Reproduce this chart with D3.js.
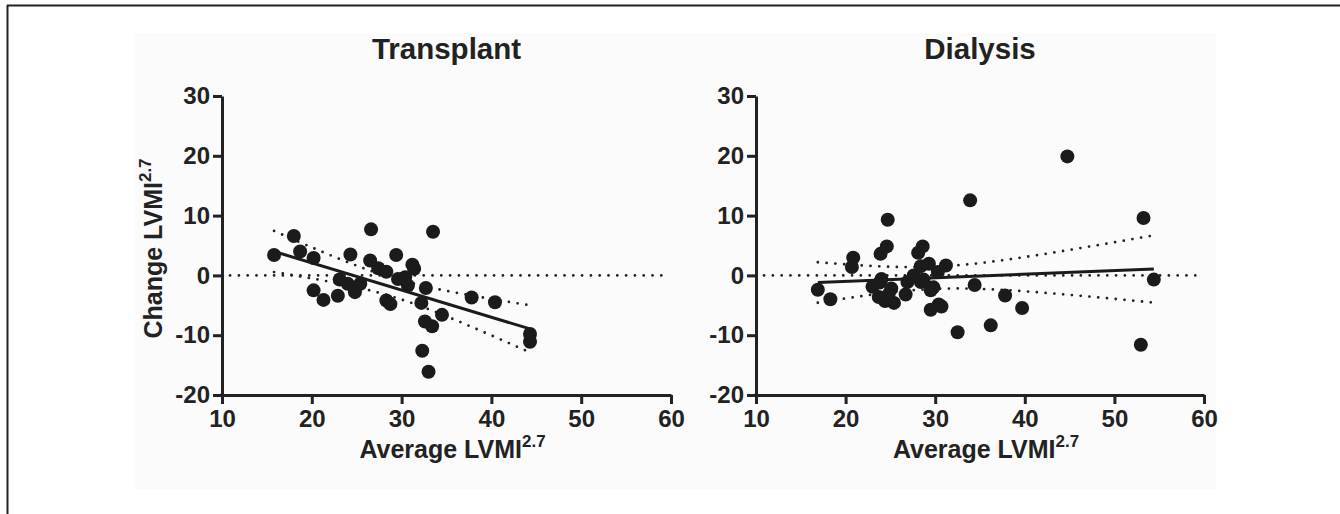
<!DOCTYPE html>
<html>
<head>
<meta charset="utf-8">
<script src="https://cdn.jsdelivr.net/npm/d3@7"></script>
<style>
  html, body { margin: 0; padding: 0; background: #ffffff; }
  svg { display: block; }
  text { font-family: "Liberation Sans", Arial, Helvetica, sans-serif; font-weight: bold; fill: #222; }
</style>
</head>
<body>
<svg id="chart" width="1340" height="514"></svg>
<script>
// ---------- data ----------
const panelTitles = ["Transplant", "Dialysis"];
const xTicks = [10, 20, 30, 40, 50, 60];
const yTicks = [-20, -10, 0, 10, 20, 30];

const transplantX = [15.8, 18.0, 18.7, 20.2, 20.2, 21.3, 22.9, 23.1, 24.0, 24.3, 24.8, 25.4,
  26.6, 26.5, 27.4, 28.3, 28.3, 28.75, 29.4, 29.6, 30.4, 30.7, 31.2, 31.4,
  32.2, 32.7, 32.6, 33.4, 32.3, 33.0, 33.5, 34.5, 37.8, 40.4, 44.3, 44.3];
const transplantY = [3.4, 6.6, 4.0, 2.9, -2.5, -4.1, -3.4, -0.7, -1.4, 3.5, -2.8, -1.4,
  7.7, 2.5, 1.2, 0.6, -4.2, -4.8, 3.4, -0.6, -0.3, -1.7, 1.8, 1.1,
  -4.6, -2.1, -7.7, -8.5, -12.6, -16.1, 7.3, -6.6, -3.7, -4.5, -9.8, -11.1];

const dialysisX = [16.9, 18.3, 20.85, 20.7, 23.0, 23.8, 23.9, 24.6, 24.7, 24.0, 23.7, 24.4,
  25.1, 25.4, 24.8, 26.7, 26.9, 27.6, 28.1, 28.6, 28.4, 29.3, 28.4, 28.7,
  29.5, 29.8, 29.5, 30.3, 30.4, 30.7, 31.2, 32.5, 33.9, 34.4, 36.2, 37.8,
  39.7, 44.75, 53.25, 52.95, 54.4];
const dialysisY = [-2.4, -4.0, 2.95, 1.4, -1.9, -1.2, 3.6, 4.85, 9.3, -0.6, -3.6, -4.3,
  -2.2, -4.6, -3.2, -3.2, -1.1, 0.0, 3.8, 4.85, 1.55, 1.95, -1.1, -0.7,
  -2.5, -2.0, -5.75, 0.55, -4.85, -5.2, 1.65, -9.5, 12.55, -1.6, -8.35, -3.35,
  -5.45, 19.9, 9.6, -11.6, -0.7];

const xAxisLabel = "Average LVMI";
const yAxisLabel = "Change LVMI";
const superscript = "2.7";

// ---------- layout ----------
const svg = d3.select("#chart");
const ink = "#222";

svg.append("rect").attr("x", 134).attr("y", 33).attr("width", 1082).attr("height", 456)
  .attr("fill", "#fbfbfb");
svg.append("line").attr("x1", 7).attr("x2", 1340).attr("y1", 5.5).attr("y2", 5.5)
  .attr("stroke", ink).attr("stroke-width", 2);
svg.append("line").attr("x1", 7.5).attr("x2", 7.5).attr("y1", 5).attr("y2", 514)
  .attr("stroke", ink).attr("stroke-width", 2);

const panels = [
  { title: panelTitles[0], xs: transplantX, ys: transplantY, left: 222, right: 671, yLabel: true },
  { title: panelTitles[1], xs: dialysisX, ys: dialysisY, left: 756, right: 1204, yLabel: false }
];
const plotTop = 96, plotBottom = 395;

function regress(xs, ys) {
  const n = xs.length;
  const mx = d3.mean(xs), my = d3.mean(ys);
  let sxx = 0, sxy = 0;
  for (let i = 0; i < n; i++) { sxx += (xs[i] - mx) ** 2; sxy += (xs[i] - mx) * (ys[i] - my); }
  const b = sxy / sxx, a = my - b * mx;
  let sse = 0;
  for (let i = 0; i < n; i++) sse += (ys[i] - (a + b * xs[i])) ** 2;
  const df = n - 2;
  const s = Math.sqrt(sse / df);
  const t = 1.96 + 2.4 / df;
  return { a, b, n, mx, sxx, s, t };
}

panels.forEach(p => {
  const x = d3.scaleLinear().domain([10, 60]).range([p.left, p.right]);
  const y = d3.scaleLinear().domain([-20, 30]).range([plotBottom, plotTop]);
  const g = svg.append("g");

  g.append("line")
    .attr("x1", x(10.9)).attr("x2", x(59.6)).attr("y1", y(0)).attr("y2", y(0))
    .attr("stroke", ink).attr("stroke-width", 2.8).attr("stroke-linecap", "round")
    .attr("stroke-dasharray", "0 8.8");

  const r = regress(p.xs, p.ys);
  const [x0, x1] = d3.extent(p.xs);
  const samples = d3.range(0, 61).map(i => x0 + (x1 - x0) * i / 60);
  const se = xv => r.s * Math.sqrt(1 / r.n + (xv - r.mx) ** 2 / r.sxx);
  const upper = samples.map(xv => [x(xv), y(r.a + r.b * xv + r.t * se(xv))]);
  const lower = samples.map(xv => [x(xv), y(r.a + r.b * xv - r.t * se(xv))]);
  const lineGen = d3.line().curve(d3.curveLinear);
  [upper, lower].forEach(pts => {
    g.append("path").attr("d", lineGen(pts)).attr("fill", "none")
      .attr("stroke", ink).attr("stroke-width", 2.8).attr("stroke-linecap", "round")
      .attr("stroke-dasharray", "0 8.8");
  });

  g.selectAll("circle").data(p.xs.map((v, i) => [v, p.ys[i]])).enter().append("circle")
    .attr("cx", d => x(d[0])).attr("cy", d => y(d[1])).attr("r", 7)
    .attr("fill", "#1b1b1b");

  g.append("line")
    .attr("x1", x(x0)).attr("x2", x(x1))
    .attr("y1", y(r.a + r.b * x0)).attr("y2", y(r.a + r.b * x1))
    .attr("stroke", "#1b1b1b").attr("stroke-width", 3);

  const fmt = d => String(d);
  const xAxis = g.append("g").attr("transform", `translate(0,${plotBottom})`)
    .call(d3.axisBottom(x).tickValues(xTicks).tickFormat(fmt).tickSize(9).tickPadding(6).tickSizeOuter(0));
  const yAxis = g.append("g").attr("transform", `translate(${p.left},0)`)
    .call(d3.axisLeft(y).tickValues(yTicks).tickFormat(fmt).tickSize(9).tickPadding(3).tickSizeOuter(0));
  [xAxis, yAxis].forEach(ax => {
    ax.select(".domain").attr("stroke", ink).attr("stroke-width", 3);
    ax.selectAll(".tick line").attr("stroke", ink).attr("stroke-width", 3);
    ax.selectAll(".tick text").attr("fill", ink).style("font-size", "24px")
      .style("font-family", '"Liberation Sans", Arial, sans-serif').style("font-weight", "bold");
  });
  g.append("line").attr("x1", p.left - 1.5).attr("x2", p.left + 1.5).attr("y1", plotBottom).attr("y2", plotBottom)
    .attr("stroke", ink).attr("stroke-width", 3);

  g.append("text").attr("x", (p.left + p.right) / 2).attr("y", 59)
    .attr("text-anchor", "middle").style("font-size", "29.5px").text(p.title);

  const xl = g.append("text").attr("x", (p.left + p.right) / 2 + 6).attr("y", 458)
    .attr("text-anchor", "middle").style("font-size", "25px");
  xl.append("tspan").text(xAxisLabel);
  xl.append("tspan").attr("dy", -11).style("font-size", "17px").text(superscript);

  if (p.yLabel) {
    const yl = g.append("text")
      .attr("transform", `translate(162,${(plotTop + plotBottom) / 2 + 3}) rotate(-90)`)
      .attr("text-anchor", "middle").style("font-size", "25px");
    yl.append("tspan").text(yAxisLabel);
    yl.append("tspan").attr("dy", -11).style("font-size", "17px").text(superscript);
  }
});
</script>
</body>
</html>
